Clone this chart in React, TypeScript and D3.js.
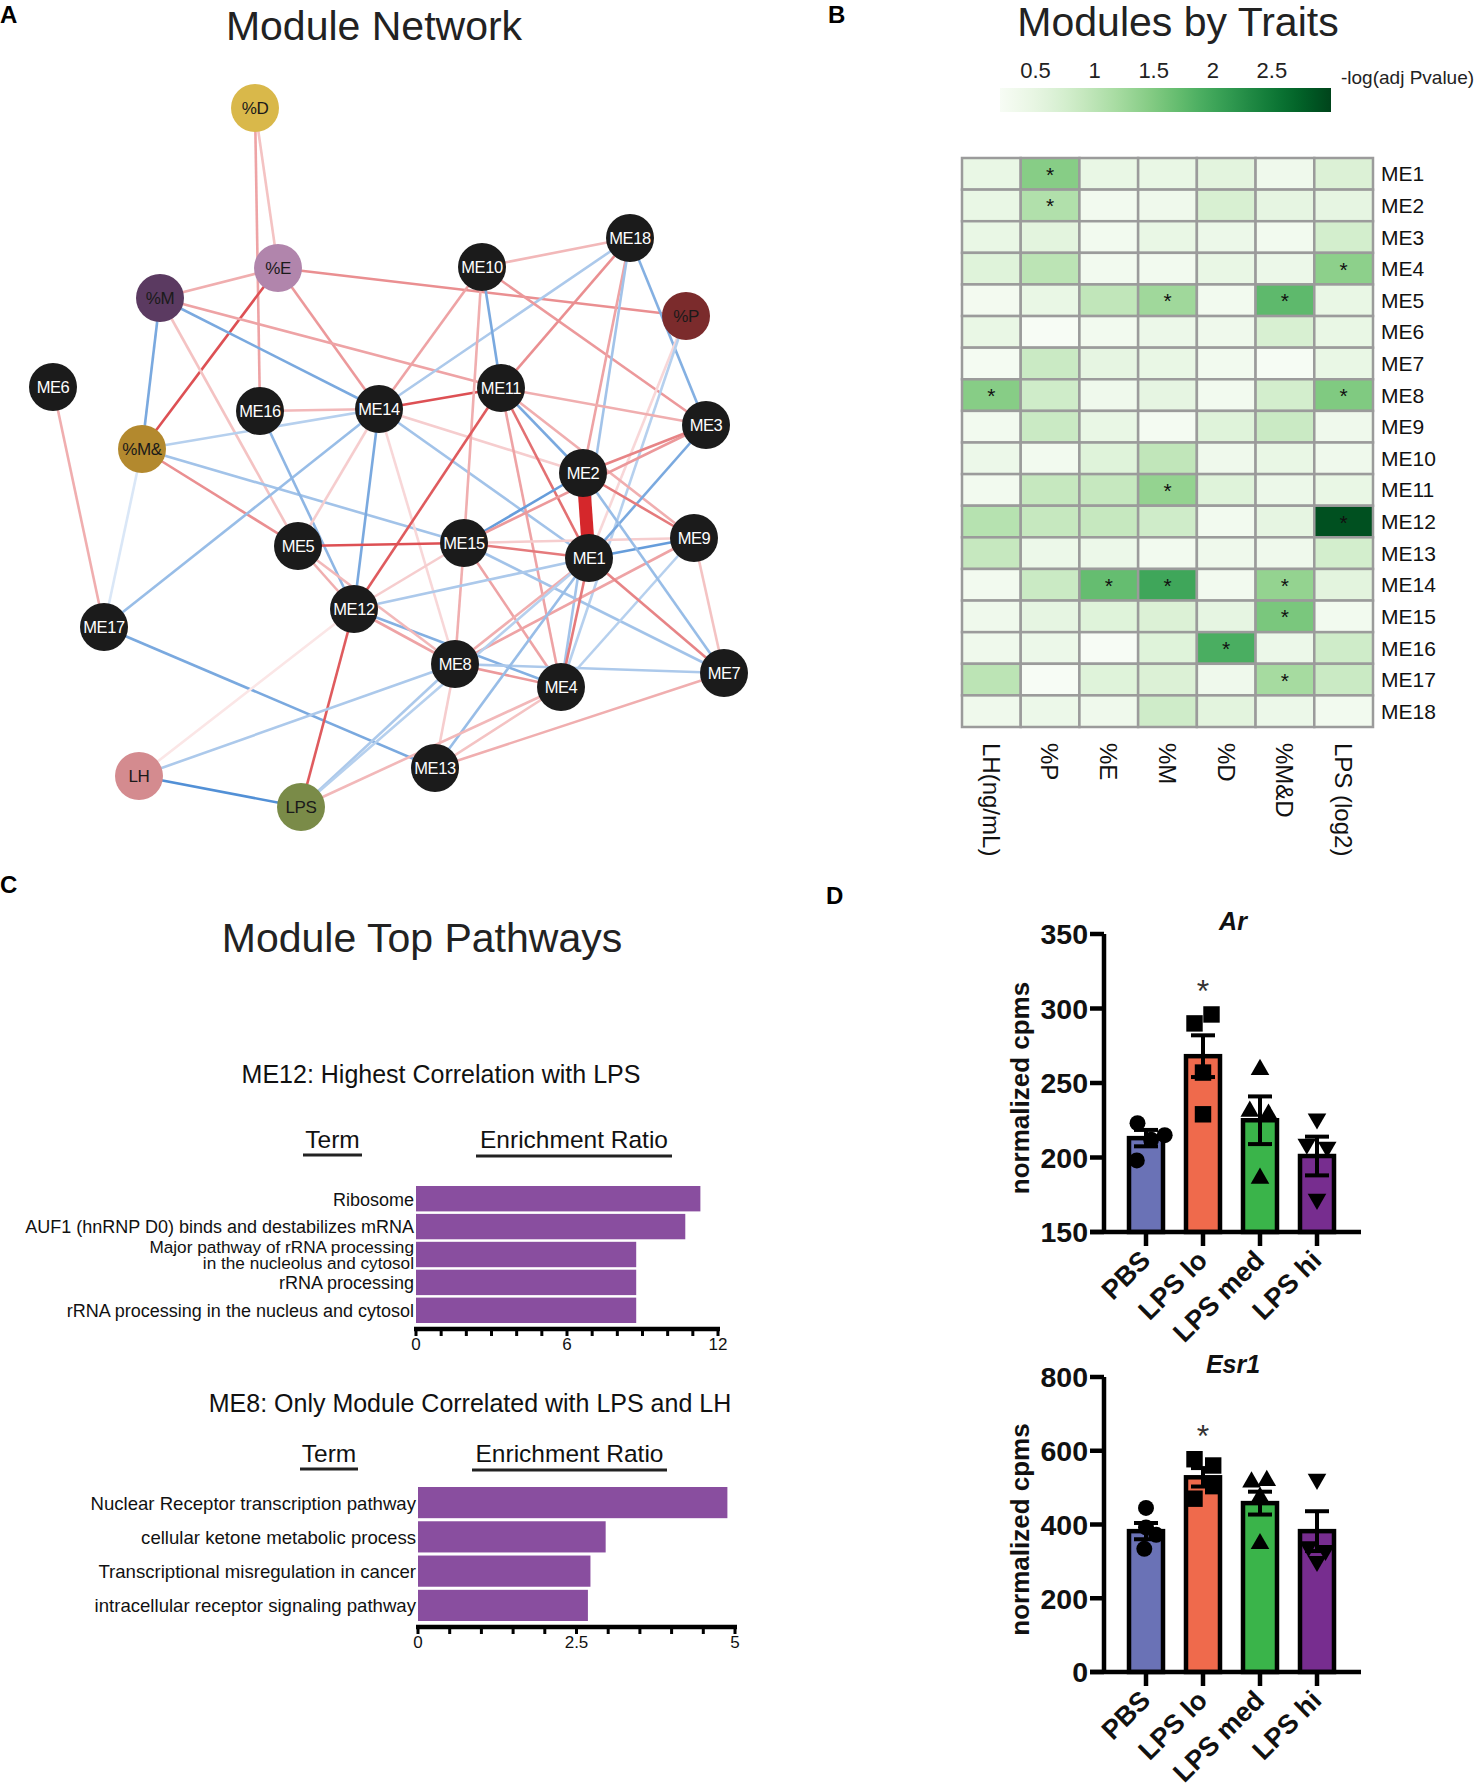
import * as d3 from "d3";

const FONT = "'Liberation Sans', Arial, Helvetica, sans-serif";
const W = 1476;
const H = 1789;

// ---------- A: module network ----------
// layout units of the network drawing (mapped to pixels with scales below)
const NODES = [
  { id: "%D", x: 225, y: 28 },
  { id: "%E", x: 248, y: 188 },
  { id: "%M", x: 130, y: 218 },
  { id: "ME10", x: 452, y: 187 },
  { id: "ME18", x: 600, y: 158 },
  { id: "%P", x: 656, y: 236 },
  { id: "ME6", x: 23, y: 307 },
  { id: "ME16", x: 230, y: 331 },
  { id: "ME14", x: 349, y: 329 },
  { id: "ME11", x: 471, y: 308 },
  { id: "ME3", x: 676, y: 345 },
  { id: "%M&", x: 112, y: 369 },
  { id: "ME2", x: 553, y: 393 },
  { id: "ME5", x: 268, y: 466 },
  { id: "ME15", x: 434, y: 463 },
  { id: "ME1", x: 559, y: 478 },
  { id: "ME9", x: 664, y: 458 },
  { id: "ME17", x: 74, y: 547 },
  { id: "ME12", x: 324, y: 529 },
  { id: "ME8", x: 425, y: 584 },
  { id: "ME4", x: 531, y: 607 },
  { id: "ME7", x: 694, y: 593 },
  { id: "LH", x: 109, y: 696 },
  { id: "ME13", x: 405, y: 688 },
  { id: "LPS", x: 271, y: 727 },
];

const TRAIT_FILL: Record<string, string> = {
  "%D": "#d9b84a",
  "%E": "#b185ac",
  "%M": "#5b3a61",
  "%P": "#7b2b2c",
  "%M&": "#b3892e",
  LH: "#d48b8f",
  LPS: "#7a8b48",
};

// [source, target, signed correlation strength]
const EDGES: [string, string, number][] = [
  ["%D", "ME16", 0.4], ["%D", "%E", 0.25],
  ["%E", "%M", 0.35], ["%E", "%P", 0.5], ["%E", "%M&", 0.8], ["%E", "ME14", 0.45],
  ["%M", "%M&", -0.6], ["%M", "ME14", -0.6], ["%M", "ME11", 0.4], ["%M", "ME5", 0.25],
  ["%M&", "ME14", -0.3], ["%M&", "ME5", 0.5], ["%M&", "ME15", -0.4], ["%M&", "ME17", -0.12],
  ["ME6", "ME17", 0.35],
  ["ME17", "ME14", -0.45], ["ME17", "ME13", -0.6],
  ["ME16", "ME14", 0.3], ["ME16", "ME12", -0.5],
  ["ME14", "ME12", -0.6], ["ME14", "ME11", 0.8], ["ME14", "ME5", 0.2], ["ME14", "ME8", 0.15],
  ["ME14", "ME2", 0.2], ["ME14", "ME1", -0.4], ["ME14", "ME10", 0.4], ["ME14", "ME18", -0.35],
  ["ME10", "ME18", 0.3], ["ME10", "ME11", -0.6], ["ME10", "ME3", 0.45], ["ME10", "ME15", 0.35],
  ["ME18", "ME11", 0.5], ["ME18", "ME2", 0.4], ["ME18", "ME3", -0.55], ["ME18", "ME4", -0.4],
  ["%P", "ME1", 0.15], ["%P", "ME4", -0.3],
  ["ME11", "ME12", 0.75], ["ME11", "ME2", -0.6], ["ME11", "ME1", 0.65], ["ME11", "ME4", 0.4],
  ["ME11", "ME9", 0.35], ["ME11", "ME3", 0.35],
  ["ME15", "ME5", 0.8], ["ME15", "ME2", -0.7], ["ME15", "ME3", 0.45], ["ME15", "ME1", 0.6],
  ["ME15", "ME9", 0.2], ["ME15", "ME7", -0.4], ["ME15", "ME4", 0.4], ["ME15", "ME8", 0.35],
  ["ME12", "ME1", -0.35], ["ME12", "ME15", 0.2], ["ME12", "ME4", -0.55], ["ME12", "ME8", 0.4],
  ["ME12", "LPS", 0.75], ["ME12", "LH", 0.08],
  ["ME5", "ME12", 0.35], ["ME5", "ME8", 0.3],
  ["ME8", "ME4", 0.45], ["ME8", "ME7", -0.35], ["ME8", "ME9", 0.4], ["ME8", "ME1", 0.35],
  ["ME8", "LH", -0.35], ["ME8", "ME13", 0.2], ["ME8", "LPS", -0.35],
  ["ME4", "ME1", 0.6], ["ME4", "ME9", -0.3], ["ME4", "ME13", 0.25],
  ["ME13", "ME1", -0.45], ["ME13", "ME7", 0.35],
  ["LH", "LPS", -0.8], ["LPS", "ME4", 0.3], ["LPS", "ME1", -0.3],
  ["ME1", "ME2", 1.0], ["ME1", "ME9", -0.7], ["ME1", "ME7", 0.55], ["ME1", "ME3", -0.6],
  ["ME2", "ME3", 0.55], ["ME2", "ME9", 0.6], ["ME2", "ME7", -0.45],
  ["ME9", "ME7", 0.25],
];

// ---------- B: modules by traits ----------
const TRAITS = ["LH(ng/mL)", "%P", "%E", "%M", "%D", "%M&D", "LPS (log2)"];
const MODULES = d3.range(1, 19).map((i) => `ME${i}`);
// -log(adj Pvalue), one row per module, one column per trait
const HEAT = [
  [0.45, 1.45, 0.45, 0.45, 0.55, 0.35, 0.65],
  [0.45, 1.1, 0.3, 0.35, 0.7, 0.5, 0.5],
  [0.45, 0.55, 0.3, 0.45, 0.4, 0.3, 0.75],
  [0.6, 1.0, 0.3, 0.3, 0.45, 0.4, 1.4],
  [0.28, 0.45, 0.95, 1.25, 0.3, 1.75, 0.45],
  [0.45, 0.2, 0.3, 0.4, 0.35, 0.7, 0.45],
  [0.25, 0.85, 0.5, 0.45, 0.3, 0.22, 0.45],
  [1.45, 0.8, 0.35, 0.5, 0.3, 0.75, 1.5],
  [0.3, 0.85, 0.45, 0.25, 0.6, 0.85, 0.35],
  [0.4, 0.3, 0.6, 0.95, 0.35, 0.45, 0.35],
  [0.3, 0.9, 0.9, 1.35, 0.6, 0.4, 0.45],
  [1.05, 0.9, 0.9, 0.8, 0.3, 0.5, 2.9],
  [0.9, 0.4, 0.4, 0.3, 0.35, 0.35, 0.75],
  [0.3, 0.85, 1.7, 2.0, 0.3, 1.35, 0.55],
  [0.35, 0.5, 0.6, 0.65, 0.5, 1.55, 0.3],
  [0.35, 0.4, 0.2, 0.6, 1.9, 0.4, 0.8],
  [1.0, 0.2, 0.6, 0.65, 0.35, 1.2, 0.85],
  [0.35, 0.4, 0.35, 0.8, 0.55, 0.4, 0.3],
];
const STARRED = [
  "ME1|%P", "ME2|%P", "ME4|LPS (log2)", "ME5|%M", "ME5|%M&D", "ME8|LH(ng/mL)",
  "ME8|LPS (log2)", "ME11|%M", "ME12|LPS (log2)", "ME14|%E", "ME14|%M", "ME14|%M&D",
  "ME15|%M&D", "ME16|%D", "ME17|%M&D",
];
const LEGEND_TICKS = [0.5, 1, 1.5, 2, 2.5];

// ---------- C: module top pathways ----------
const ME12_TERMS = [
  "Ribosome",
  "AUF1 (hnRNP D0) binds and destabilizes mRNA",
  "Major pathway of rRNA processing\nin the nucleolus and cytosol",
  "rRNA processing",
  "rRNA processing in the nucleus and cytosol",
];
const ME12_RATIO = [11.3, 10.7, 8.75, 8.75, 8.75];
const ME12_TICK_LABELS = [0, 6, 12];

const ME8_TERMS = [
  "Nuclear Receptor transcription pathway",
  "cellular ketone metabolic process",
  "Transcriptional misregulation in cancer",
  "intracellular receptor signaling pathway",
];
const ME8_RATIO = [4.88, 2.96, 2.72, 2.68];
const ME8_TICK_LABELS = [0, 2.5, 5];

// ---------- D: gene expression ----------
const GROUPS = ["PBS", "LPS lo", "LPS med", "LPS hi"];
const GROUP_COLORS = ["#6a72b6", "#ef6a4c", "#3ab44a", "#772d8f"];

const AR_MEAN = [213, 268, 225, 201];
const AR_SEM = [5.5, 14, 16, 13];
const AR_POINTS = [
  [223, 215, 198, 212],
  [296, 290, 257, 229],
  [259, 231, 229, 186],
  [226, 209, 207, 172],
];
const AR_TICKS = [150, 200, 250, 300, 350];

const ESR1_MEAN = [382, 528, 458, 382];
const ESR1_SEM = [22, 25, 31, 54];
const ESR1_POINTS = [
  [445, 392, 372, 334],
  [577, 560, 504, 470],
  [515, 519, 474, 348],
  [523, 340, 330, 300],
];
const ESR1_TICKS = [0, 200, 400, 600, 800];

// horizontal spread of the dots, in fractions of the bar width
const AR_SPREAD = [
  [-0.25, 0.55, -0.27, 0.15],
  [0.25, -0.25, 0, 0],
  [0, -0.3, 0.25, 0],
  [0, -0.3, 0.3, 0],
];
const ESR1_SPREAD = [
  [0, 0, 0.3, -0.05],
  [-0.25, 0.3, 0.3, -0.25],
  [-0.25, 0.2, 0, 0],
  [0, -0.25, 0.25, 0],
];

const edgeColor = d3
  .scaleLinear<string>()
  .domain([-1, -0.05, 0.05, 1])
  .range(["#2a76cc", "#e8f0fa", "#fcecec", "#d5272b"]);

function NetworkPanel() {
  const sx = d3.scaleLinear().domain([0, 700]).range([30, 730]);
  const sy = d3.scaleLinear().domain([0, 730]).range([80, 810]);
  const byId = new Map(NODES.map((n) => [n.id, n]));
  return (
    <g>
      {EDGES.map(([a, b, r], i) => {
        const s = byId.get(a)!;
        const t = byId.get(b)!;
        return (
          <line
            key={i}
            x1={sx(s.x)}
            y1={sy(s.y)}
            x2={sx(t.x)}
            y2={sy(t.y)}
            stroke={edgeColor(r)}
            strokeWidth={Math.abs(r) >= 0.99 ? 13 : 2.6}
          />
        );
      })}
      {NODES.map((n) => {
        const trait = TRAIT_FILL[n.id];
        return (
          <g key={n.id} transform={`translate(${sx(n.x)},${sy(n.y)})`}>
            <circle r={24} fill={trait ?? "#1b1b1b"} />
            <text
              textAnchor="middle"
              dy="0.36em"
              fontSize={trait ? 17 : 16.5}
              letterSpacing={-0.4}
              fill={trait ? "#1a1a1a" : "#ffffff"}
            >
              {n.id}
            </text>
          </g>
        );
      })}
      <text x={374} y={40} textAnchor="middle" fontSize={41} fill="#222">
        Module Network
      </text>
    </g>
  );
}

function HeatmapPanel() {
  const x = d3.scaleBand().domain(TRAITS).range([962, 1373]);
  const y = d3.scaleBand().domain(MODULES).range([158, 727]);
  const color = d3.scaleSequential(d3.interpolateGreens).domain([0.2, 3]);
  const lx = d3.scaleLinear().domain([0.2, 3]).range([1000, 1331]);
  const stops = d3.range(0, 1.0001, 0.05);
  const starred = new Set(STARRED);
  return (
    <g>
      <defs>
        <linearGradient id="greens" x1="0" x2="1" y1="0" y2="0">
          {stops.map((t) => (
            <stop key={t} offset={t} stopColor={color(0.2 + t * 2.8)} />
          ))}
        </linearGradient>
      </defs>
      <text x={1178} y={36} textAnchor="middle" fontSize={41} fill="#222">
        Modules by Traits
      </text>
      <rect x={lx(0.2)} y={88} width={lx(3) - lx(0.2)} height={24} fill="url(#greens)" />
      {LEGEND_TICKS.map((t) => (
        <text key={t} x={lx(t)} y={78} textAnchor="middle" fontSize={22} fill="#222">
          {t}
        </text>
      ))}
      <text x={1341} y={84} fontSize={19} fill="#222">
        -log(adj Pvalue)
      </text>
      {MODULES.map((m, ri) =>
        TRAITS.map((tr, ci) => (
          <rect
            key={m + tr}
            x={x(tr)}
            y={y(m)}
            width={x.bandwidth()}
            height={y.bandwidth()}
            fill={color(HEAT[ri][ci])}
            stroke="#9b9b9b"
            strokeWidth={2.5}
          />
        ))
      )}
      {MODULES.map((m) =>
        TRAITS.filter((tr) => starred.has(`${m}|${tr}`)).map((tr) => (
          <text
            key={"s" + m + tr}
            x={x(tr)! + x.bandwidth() / 2}
            y={y(m)! + y.bandwidth() / 2 + 8}
            textAnchor="middle"
            fontSize={21}
            fill="#111"
          >
            *
          </text>
        ))
      )}
      {MODULES.map((m) => (
        <text
          key={"l" + m}
          x={1381}
          y={y(m)! + y.bandwidth() / 2}
          dy="0.36em"
          fontSize={21}
          fill="#111"
        >
          {m}
        </text>
      ))}
      {TRAITS.map((tr) => (
        <text
          key={"c" + tr}
          transform={`translate(${x(tr)! + x.bandwidth() / 2},743) rotate(90)`}
          dy="0.36em"
          fontSize={24}
          fill="#111"
        >
          {tr}
        </text>
      ))}
    </g>
  );
}

type PathwayProps = {
  title: string;
  titleX: number;
  titleY: number;
  headerY: number;
  termX: [number, number];
  ratioX: [number, number];
  terms: string[];
  ratios: number[];
  maxRatio: number;
  tickStep: number;
  tickLabels: number[];
  xRange: [number, number];
  yRange: [number, number];
  axisY: number;
  labelSize: number;
};

function PathwayChart(p: PathwayProps) {
  const x = d3.scaleLinear().domain([0, p.maxRatio]).range(p.xRange);
  const y = d3.scaleBand().domain(p.terms).range(p.yRange).paddingInner(0.09);
  const ticks = d3.range(0, p.maxRatio + 1e-9, p.tickStep);
  return (
    <g>
      <text x={p.titleX} y={p.titleY} textAnchor="middle" fontSize={25} fill="#111">
        {p.title}
      </text>
      <text x={(p.termX[0] + p.termX[1]) / 2} y={p.headerY} textAnchor="middle" fontSize={24.5} fill="#111">
        Term
      </text>
      <line x1={p.termX[0]} x2={p.termX[1]} y1={p.headerY + 7} y2={p.headerY + 7} stroke="#222" strokeWidth={3} />
      <text x={(p.ratioX[0] + p.ratioX[1]) / 2} y={p.headerY} textAnchor="middle" fontSize={24.5} fill="#111">
        Enrichment Ratio
      </text>
      <line x1={p.ratioX[0]} x2={p.ratioX[1]} y1={p.headerY + 8} y2={p.headerY + 8} stroke="#222" strokeWidth={3} />
      {p.terms.map((t, i) => (
        <rect
          key={t}
          x={x(0)}
          y={y(t)}
          width={x(p.ratios[i]) - x(0)}
          height={y.bandwidth()}
          fill="#894e9f"
        />
      ))}
      {p.terms.map((t) => {
        const lines = t.split("\n");
        const cy = y(t)! + y.bandwidth() / 2;
        const lh = p.labelSize * 0.92;
        return (
          <text key={"l" + t} x={x(0) - 2} textAnchor="end" fontSize={lines.length > 1 ? p.labelSize - 0.8 : p.labelSize} fill="#111">
            {lines.map((ln, k) => (
              <tspan key={k} x={x(0) - 2} y={cy + (k - (lines.length - 1) / 2) * lh} dy="0.38em">
                {ln}
              </tspan>
            ))}
          </text>
        );
      })}
      <line x1={x(0) - 2} x2={x(p.maxRatio) + 2} y1={p.axisY} y2={p.axisY} stroke="#000" strokeWidth={4.5} />
      {ticks.map((t) => (
        <rect key={"t" + t} x={x(t) - 1.5} y={p.axisY} width={3} height={7} fill="#000" />
      ))}
      {p.tickLabels.map((t) => (
        <text key={"tl" + t} x={x(t)} y={p.axisY + 21} textAnchor="middle" fontSize={17} fill="#111">
          {t}
        </text>
      ))}
    </g>
  );
}

const SYMBOLS = [d3.symbolCircle, d3.symbolSquare, d3.symbolTriangle, d3.symbolTriangle];
const SYMBOL_SIZE = [200, 270, 150, 150];

type GeneProps = {
  title: string;
  mean: number[];
  sem: number[];
  points: number[][];
  spread: number[][];
  ticks: number[];
  pixelTop: number;
  pixelBottom: number;
};

function GeneChart(g: GeneProps) {
  const axisX = 1104;
  const barW = 34;
  const lo = g.ticks[0];
  const hi = g.ticks[g.ticks.length - 1];
  const y = d3.scaleLinear().domain([lo, hi]).range([g.pixelBottom, g.pixelTop]);
  const x = d3.scalePoint().domain(GROUPS).range([1146, 1317]);
  const base = y(lo);
  const topPoint = d3.max(g.points[1])!;
  return (
    <g fontFamily={FONT}>
      <text x={1233} y={g.pixelTop - 4} textAnchor="middle" fontSize={25} fontWeight="bold" fontStyle="italic" fill="#111">
        {g.title}
      </text>
      {GROUPS.map((grp, i) => (
        <rect
          key={grp}
          x={x(grp)! - barW / 2}
          y={y(g.mean[i])}
          width={barW}
          height={base - y(g.mean[i])}
          fill={GROUP_COLORS[i]}
          stroke="#000"
          strokeWidth={4.5}
        />
      ))}
      {GROUPS.map((grp, i) => {
        const cx = x(grp)!;
        const a = y(g.mean[i] + g.sem[i]);
        const b = y(g.mean[i] - g.sem[i]);
        return (
          <g key={"e" + grp} stroke="#000" strokeWidth={4}>
            <line x1={cx} x2={cx} y1={a} y2={b} />
            <line x1={cx - 12} x2={cx + 12} y1={a} y2={a} />
            <line x1={cx - 12} x2={cx + 12} y1={b} y2={b} />
          </g>
        );
      })}
      {GROUPS.map((grp, i) =>
        g.points[i].map((v, k) => {
          const px = x(grp)! + g.spread[i][k] * barW;
          const path = d3.symbol().type(SYMBOLS[i]).size(SYMBOL_SIZE[i])()!;
          return (
            <path
              key={grp + k}
              d={path}
              fill="#000"
              transform={`translate(${px},${y(v)})${i === 3 ? " rotate(180)" : ""}`}
            />
          );
        })
      )}
      <text x={x("LPS lo")} y={y(topPoint) - 12} textAnchor="middle" fontSize={32} fill="#333">
        *
      </text>
      <line x1={axisX} x2={axisX} y1={g.pixelTop} y2={base + 2} stroke="#000" strokeWidth={4.5} />
      <line x1={axisX - 14} x2={1361} y1={base} y2={base} stroke="#000" strokeWidth={4.5} />
      {g.ticks.map((t) => (
        <g key={"yt" + t}>
          <line x1={axisX - 14} x2={axisX} y1={y(t)} y2={y(t)} stroke="#000" strokeWidth={4.5} />
          <text x={axisX - 16} y={y(t)} dy="0.36em" textAnchor="end" fontSize={28.5} fontWeight="bold" fill="#111">
            {t}
          </text>
        </g>
      ))}
      {GROUPS.map((grp) => (
        <g key={"xt" + grp}>
          <line x1={x(grp)} x2={x(grp)} y1={base} y2={base + 14} stroke="#000" strokeWidth={4.5} />
          <text
            transform={`translate(${x(grp)! + 6},${base + 30}) rotate(-45)`}
            textAnchor="end"
            fontSize={27}
            fontWeight="bold"
            fill="#111"
          >
            {grp}
          </text>
        </g>
      ))}
      <text
        transform={`translate(1029,${(g.pixelTop + g.pixelBottom) / 2 + 5}) rotate(-90)`}
        textAnchor="middle"
        fontSize={26}
        fontWeight="bold"
        fill="#111"
      >
        normalized cpms
      </text>
    </g>
  );
}

export default function App() {
  return (
    <svg
      width={W}
      height={H}
      viewBox={`0 0 ${W} ${H}`}
      style={{ position: "absolute", left: 0, top: 0, background: "#fff" }}
      fontFamily={FONT}
    >
      <rect width={W} height={H} fill="#fff" />
      <NetworkPanel />
      <HeatmapPanel />
      <text x={422} y={952} textAnchor="middle" fontSize={41} fill="#222">
        Module Top Pathways
      </text>
      <PathwayChart
        title="ME12: Highest Correlation with LPS"
        titleX={441}
        titleY={1083}
        headerY={1148}
        termX={[303, 362]}
        ratioX={[476, 672]}
        terms={ME12_TERMS}
        ratios={ME12_RATIO}
        maxRatio={12}
        tickStep={1}
        tickLabels={ME12_TICK_LABELS}
        xRange={[416, 718]}
        yRange={[1186, 1323]}
        axisY={1329}
        labelSize={18}
      />
      <PathwayChart
        title="ME8: Only Module Correlated with LPS and LH"
        titleX={470}
        titleY={1412}
        headerY={1462}
        termX={[300, 358]}
        ratioX={[472, 667]}
        terms={ME8_TERMS}
        ratios={ME8_RATIO}
        maxRatio={5}
        tickStep={0.5}
        tickLabels={ME8_TICK_LABELS}
        xRange={[418, 735]}
        yRange={[1487, 1621]}
        axisY={1627}
        labelSize={18.6}
      />
      <GeneChart
        title="Ar"
        mean={AR_MEAN}
        sem={AR_SEM}
        points={AR_POINTS}
        spread={AR_SPREAD}
        ticks={AR_TICKS}
        pixelTop={934}
        pixelBottom={1232}
      />
      <GeneChart
        title="Esr1"
        mean={ESR1_MEAN}
        sem={ESR1_SEM}
        points={ESR1_POINTS}
        spread={ESR1_SPREAD}
        ticks={ESR1_TICKS}
        pixelTop={1377}
        pixelBottom={1672}
      />
      <g fontSize={24} fontWeight="bold" fill="#000">
        <text x={0} y={23}>A</text>
        <text x={828} y={23}>B</text>
        <text x={0} y={893}>C</text>
        <text x={826} y={904}>D</text>
      </g>
    </svg>
  );
}
